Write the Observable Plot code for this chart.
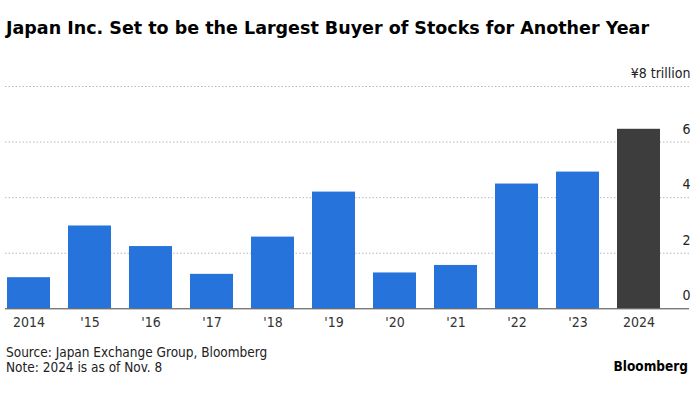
<!DOCTYPE html>
<html>
<head>
<meta charset="utf-8">
<script src="https://cdn.jsdelivr.net/npm/d3@7"></script>
<script src="https://cdn.jsdelivr.net/npm/@observablehq/plot@0.6"></script>
<style>
  html, body { margin: 0; padding: 0; background: #fff; }
  body { width: 700px; height: 394px; position: relative; overflow: hidden; font-family: "DejaVu Sans Condensed", "DejaVu Sans", sans-serif; }
  #title { position: absolute; left: 6px; top: 18px; font-family: "DejaVu Sans", sans-serif; font-size: 17.5px; font-weight: bold; color: #000; white-space: nowrap; }
  #chart { position: absolute; left: 0; top: 50px; }
  #source { position: absolute; left: 6px; top: 345px; font-size: 13.5px; line-height: 15px; color: #222; }
  #brand { position: absolute; right: 12px; top: 358px; font-size: 13.5px; font-weight: bold; color: #000; }
</style>
</head>
<body>
<div id="title">Japan Inc. Set to be the Largest Buyer of Stocks for Another Year</div>
<div id="chart"></div>
<div id="source">Source: Japan Exchange Group, Bloomberg<br>Note: 2024 is as of Nov. 8</div>
<div id="brand">Bloomberg</div>
<script>
const years = ["2014", "'15", "'16", "'17", "'18", "'19", "'20", "'21", "'22", "'23", "2024"];
const values = [1.12, 2.98, 2.24, 1.24, 2.58, 4.2, 1.29, 1.56, 4.49, 4.92, 6.46];
const highlight = [false, false, false, false, false, false, false, false, false, false, true];
const yTicks = [0, 2, 4, 6, 8];
const yUnit = "¥8 trillion";

const data = years.map((y, i) => ({year: y, value: values[i], hl: highlight[i]}));

const chart = Plot.plot({
  width: 700,
  height: 290,
  marginLeft: 5,
  marginRight: 39,
  marginTop: 36,
  marginBottom: 31.7,
  style: {fontFamily: '"DejaVu Sans Condensed", "DejaVu Sans", sans-serif', fontSize: "14px", color: "#333", background: "transparent"},
  x: {domain: years, paddingInner: 0.3, paddingOuter: 0, label: null},
  y: {domain: [0, 8], label: null},
  marks: [
    Plot.ruleY(yTicks.filter(d => d > 0), {stroke: "#b8b8b8", strokeDasharray: "1.5,2", strokeWidth: 1, insetRight: -28}),
    Plot.barY(data, {x: "year", y: "value", fill: d => d.hl ? "#3d3d3d" : "#2673dc"}),
    Plot.ruleY([0], {stroke: "#444", strokeWidth: 1, insetRight: -28}),
    Plot.axisX({tickSize: 0, tickPadding: 8, fill: "#333"}),
    Plot.axisY({anchor: "right", ticks: yTicks, tickSize: 0, tickPadding: 0, textAnchor: "end", dx: 29, dy: -13,
      tickFormat: d => d === 8 ? yUnit : String(d), fill: "#222", label: null})
  ]
});
document.getElementById("chart").appendChild(chart);
</script>
</body>
</html>
